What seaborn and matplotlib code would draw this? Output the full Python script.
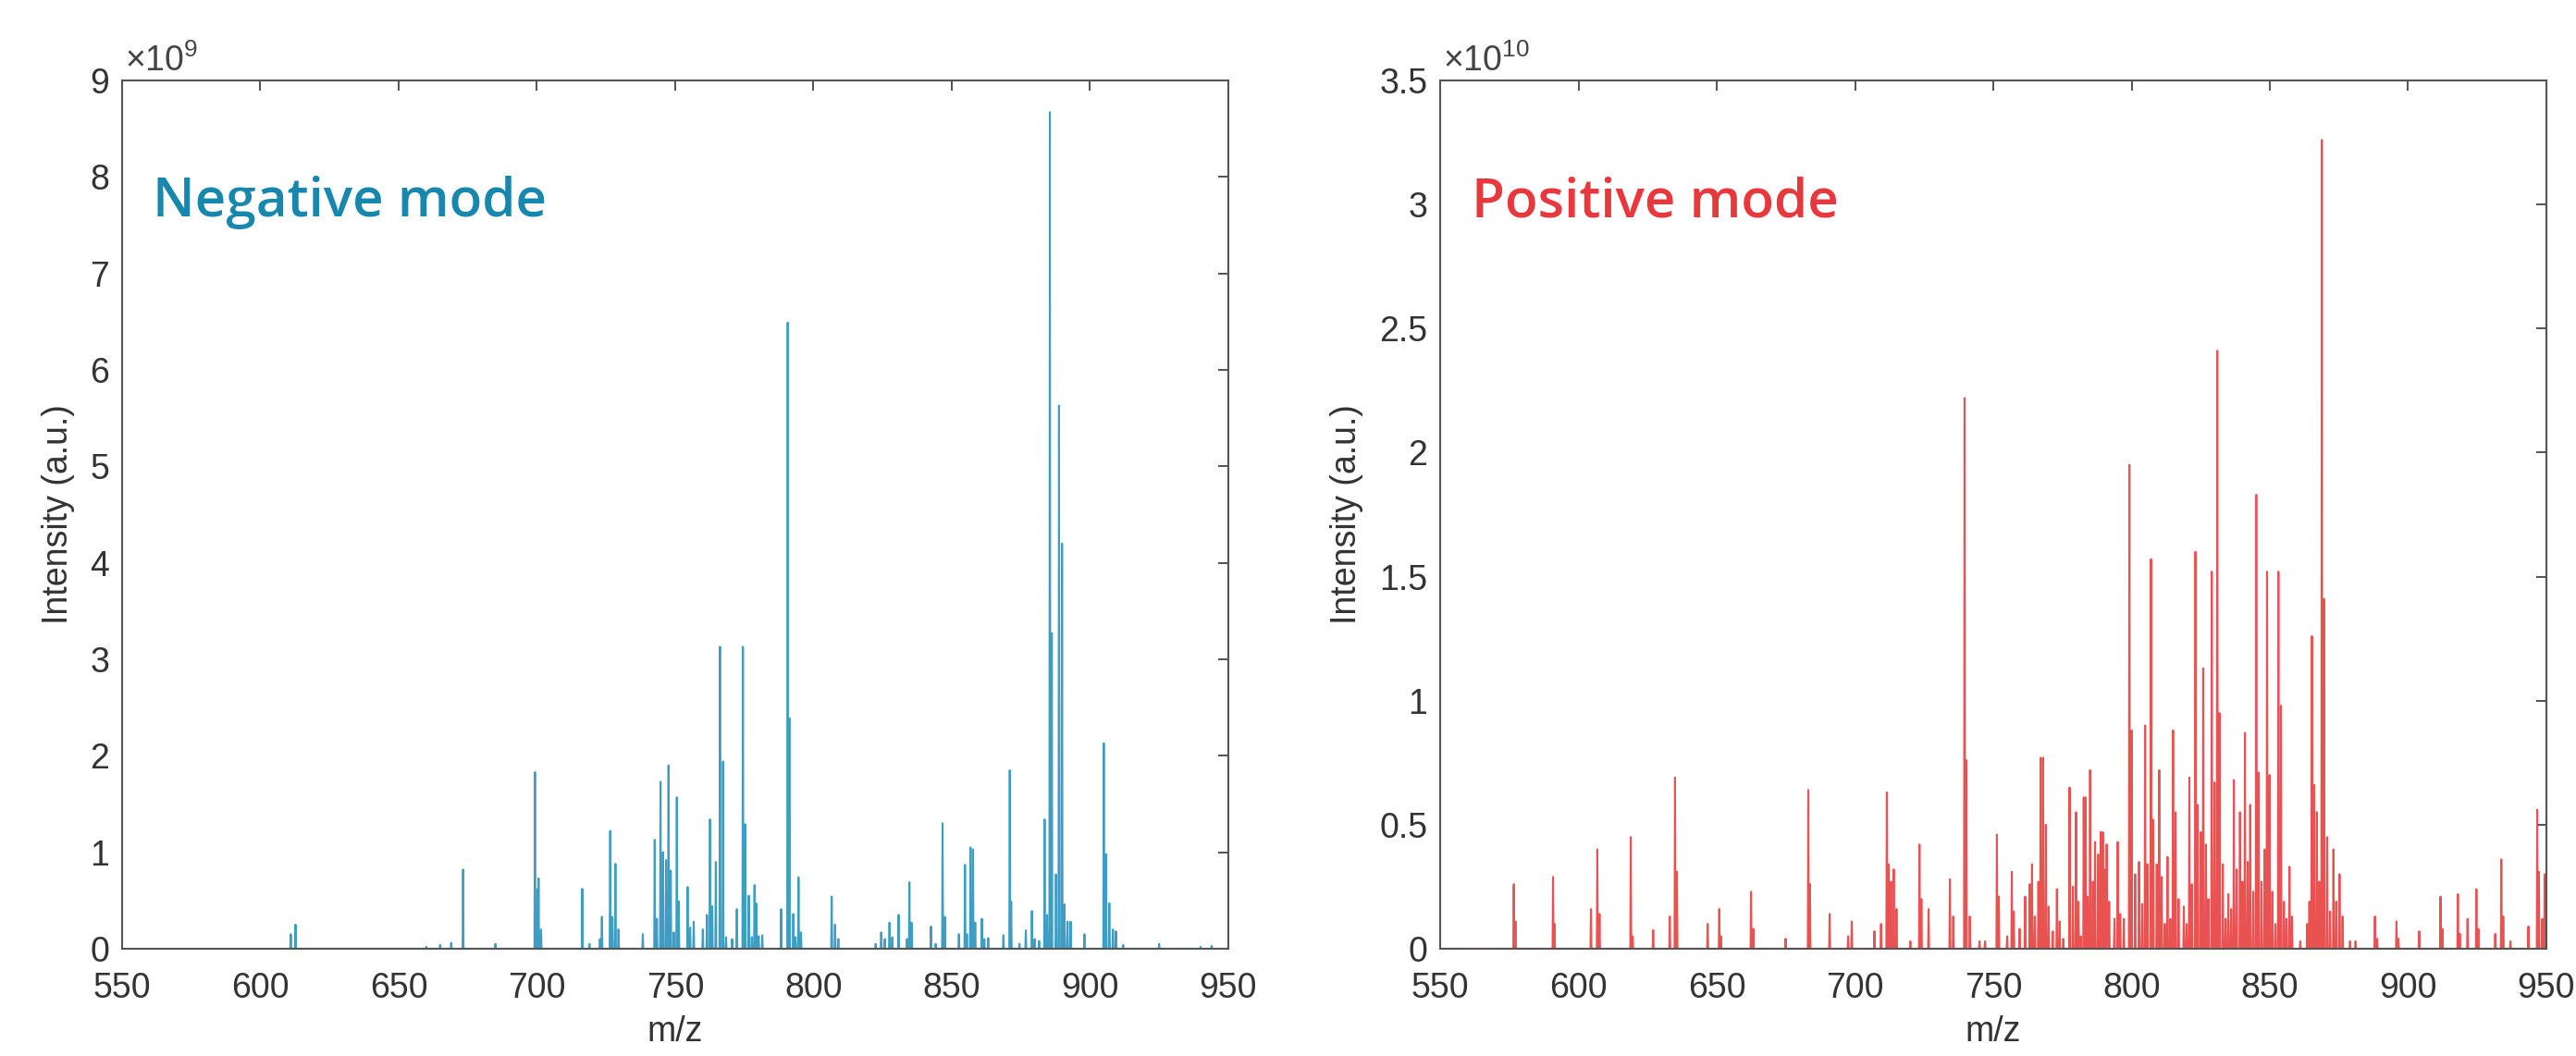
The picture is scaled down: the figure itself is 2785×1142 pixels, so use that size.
import matplotlib
matplotlib.use("Agg")
import matplotlib.pyplot as plt
from matplotlib.ticker import FuncFormatter, MultipleLocator
import numpy as np
import pandas as pd
import seaborn as sns

# Peak lists (m/z, intensity)
NEG_SCALE = 1e9
neg_mz = [
    611.0, 612.7, 660.0, 665.0, 669.0, 673.3, 685.0, 699.3, 700.2, 700.6,
    701.5, 716.4, 719.0, 722.8, 723.5, 726.5, 727.3, 728.4, 729.5, 738.3,
    742.6, 743.4, 744.7, 745.6, 746.7, 747.6, 748.4, 749.5, 750.6, 751.3,
    754.5, 755.4, 756.7, 760.0, 761.5, 762.6, 763.4, 764.7, 766.2, 767.3,
    768.4, 770.6, 772.3, 774.5, 775.3, 776.6, 777.7, 778.7, 779.3, 780.2,
    781.5, 788.3, 790.7, 791.3, 792.7, 793.5, 794.6, 795.5, 806.6, 807.8,
    809.0, 822.5, 824.5, 825.8, 827.5, 828.5, 830.8, 833.8, 834.7, 835.5,
    842.5, 844.2, 846.7, 847.5, 852.6, 854.8, 855.5, 856.8, 857.7, 858.5,
    860.9, 861.8, 863.2, 868.7, 871.0, 871.5, 874.5, 876.8, 879.0, 880.0,
    881.6, 883.6, 884.5, 885.5, 886.2, 887.7, 888.8, 889.9, 890.8, 891.9,
    893.0, 898.0, 905.0, 905.8, 907.0, 908.3, 909.4, 912.0, 925.0, 940.0,
    944.0,
]
neg_int = [
    0.15, 0.25, 0.02, 0.04, 0.06, 0.82, 0.05, 1.83, 0.62, 0.73,
    0.20, 0.62, 0.05, 0.10, 0.33, 1.22, 0.33, 0.88, 0.20, 0.15,
    1.13, 0.31, 1.73, 1.00, 0.92, 1.90, 0.81, 0.17, 1.57, 0.49,
    0.64, 0.22, 0.28, 0.20, 0.35, 1.34, 0.44, 0.90, 3.13, 1.94,
    0.12, 0.10, 0.41, 3.13, 1.29, 0.55, 0.12, 0.66, 0.47, 0.13,
    0.14, 0.41, 6.49, 2.39, 0.36, 0.12, 0.74, 0.17, 0.54, 0.25,
    0.10, 0.05, 0.17, 0.10, 0.27, 0.12, 0.35, 0.10, 0.69, 0.27,
    0.23, 0.05, 1.30, 0.33, 0.15, 0.87, 0.15, 1.05, 1.03, 0.27,
    0.31, 0.10, 0.11, 0.14, 1.85, 0.49, 0.05, 0.19, 0.39, 0.10,
    0.08, 1.34, 0.35, 8.67, 3.27, 0.77, 5.63, 4.20, 0.46, 0.28,
    0.28, 0.15, 2.13, 0.98, 0.47, 0.20, 0.18, 0.04, 0.05, 0.02,
    0.03,
]
neg_scan = [610.0, 950.0]

POS_SCALE = 1e10
pos_mz = [
    576.6, 577.2, 590.8, 591.3, 604.5, 606.8, 607.6, 618.9, 619.6, 627.0,
    633.0, 634.9, 635.6, 646.7, 650.9, 651.5, 662.4, 663.2, 674.9, 683.1,
    683.7, 690.8, 697.5, 698.8, 707.0, 709.4, 711.5, 712.1, 713.0, 714.0,
    715.0, 720.0, 723.3, 724.0, 726.6, 734.3, 735.5, 739.6, 740.2, 741.5,
    745.0, 747.0, 751.3, 752.0, 755.0, 756.7, 757.4, 759.5, 761.5, 763.2,
    764.0, 765.0, 766.3, 767.1, 768.0, 769.0, 770.0, 771.5, 773.0, 774.0,
    775.3, 777.6, 778.8, 779.9, 780.8, 781.6, 782.7, 783.4, 784.1, 785.0,
    786.0, 786.8, 787.9, 788.8, 789.6, 790.3, 791.0, 791.9, 793.8, 795.0,
    795.9, 797.2, 799.2, 800.0, 801.3, 802.7, 803.8, 804.9, 805.7, 807.0,
    807.8, 809.1, 810.0, 810.9, 812.0, 813.0, 814.0, 815.0, 815.9, 817.0,
    818.9, 819.9, 820.9, 821.8, 823.1, 823.9, 825.0, 825.9, 826.9, 827.8,
    829.0, 830.0, 831.0, 831.8, 833.0, 834.0, 835.0, 836.0, 837.0, 838.0,
    839.2, 840.1, 841.0, 842.0, 842.9, 844.0, 845.1, 845.9, 847.0, 848.1,
    849.0, 849.9, 850.9, 852.0, 853.1, 854.0, 855.1, 856.0, 857.1, 858.0,
    861.0, 863.5, 864.3, 865.2, 866.0, 867.0, 867.9, 868.8, 869.6, 870.7,
    871.8, 873.0, 874.0, 875.2, 876.3, 879.0, 881.0, 888.0, 888.8, 895.8,
    896.5, 904.0, 911.7, 912.4, 918.0, 918.7, 921.5, 924.7, 925.4, 931.5,
    933.7, 934.4, 937.0, 943.5, 946.7, 947.3, 948.5, 949.4,
]
pos_int = [
    0.26, 0.11, 0.29, 0.10, 0.16, 0.40, 0.14, 0.45, 0.05, 0.075,
    0.13, 0.69, 0.31, 0.10, 0.16, 0.05, 0.23, 0.08, 0.04, 0.64,
    0.26, 0.14, 0.05, 0.11, 0.07, 0.10, 0.63, 0.34, 0.27, 0.32,
    0.16, 0.03, 0.42, 0.20, 0.16, 0.28, 0.13, 2.22, 0.76, 0.13,
    0.03, 0.03, 0.46, 0.21, 0.05, 0.31, 0.15, 0.08, 0.21, 0.26,
    0.34, 0.13, 0.27, 0.77, 0.77, 0.50, 0.17, 0.07, 0.24, 0.11,
    0.04, 0.65, 0.25, 0.55, 0.19, 0.05, 0.61, 0.61, 0.21, 0.72,
    0.27, 0.43, 0.38, 0.47, 0.47, 0.32, 0.42, 0.19, 0.12, 0.43,
    0.14, 0.12, 1.95, 0.88, 0.30, 0.35, 0.18, 0.90, 0.34, 1.57,
    0.52, 0.34, 0.72, 0.29, 0.10, 0.37, 0.12, 0.88, 0.55, 0.20,
    0.17, 0.10, 0.69, 0.26, 1.60, 0.58, 0.47, 1.13, 0.42, 0.20,
    1.52, 0.67, 2.41, 0.95, 0.34, 0.12, 0.22, 0.16, 0.68, 0.32,
    0.55, 0.27, 0.87, 0.35, 0.58, 0.23, 1.83, 0.71, 0.27, 0.40,
    1.52, 0.70, 0.23, 0.10, 1.52, 0.98, 0.19, 0.12, 0.33, 0.13,
    0.03, 0.10, 0.19, 1.26, 0.66, 0.55, 0.27, 3.26, 1.41, 0.45,
    0.15, 0.40, 0.19, 0.30, 0.13, 0.03, 0.03, 0.13, 0.04, 0.11,
    0.04, 0.07, 0.21, 0.08, 0.22, 0.06, 0.12, 0.24, 0.08, 0.06,
    0.36, 0.13, 0.03, 0.09, 0.56, 0.31, 0.12, 0.30,
]
pos_scan = [550.0, 950.0]

mz_ticks = [550, 600, 650, 700, 750, 800, 850, 900, 950]

NEG_LINE = "#3f9cc2"
POS_LINE = "#ea5151"
NEG_TEXT = "#1787ae"
POS_TEXT = "#e8383d"
AX_COLOR = "#333333"

sns.set_theme(style="white")
plt.rcParams.update({
    "font.family": ["Liberation Sans", "DejaVu Sans"],
    "mathtext.fontset": "custom",
    "mathtext.rm": "Liberation Sans",
    "mathtext.it": "Liberation Sans",
    "text.color": AX_COLOR,
    "axes.labelcolor": AX_COLOR,
    "xtick.color": AX_COLOR,
    "ytick.color": AX_COLOR,
})


def stick_profile(mz, intensity, scan, scale, w=0.18):
    """Turn a peak list into a centroid-like profile trace."""
    order = np.argsort(mz)
    mz = np.asarray(mz)[order]
    h = np.asarray(intensity)[order] * scale
    zeros = np.zeros_like(h)
    x = np.concatenate([[scan[0]], np.column_stack([mz - w, mz, mz + w]).ravel(), [scan[1]]])
    y = np.concatenate([[0.0], np.column_stack([zeros, h, zeros]).ravel(), [0.0]])
    return pd.DataFrame({"mz": x, "intensity": y})


def draw_panel(ax, df, color, scale, exp, ymax, ystep, label, label_color):
    sns.lineplot(data=df, x="mz", y="intensity", sort=False, estimator=None,
                 color=color, linewidth=1.5, ax=ax)
    ax.set_xlim(550, 950)
    ax.set_ylim(0, ymax * scale)
    ax.set_xticks(mz_ticks)
    ax.yaxis.set_major_locator(MultipleLocator(ystep * scale))
    ax.yaxis.set_major_formatter(FuncFormatter(lambda v, p: f"{v / scale:g}"))
    ax.tick_params(direction="in", length=8, width=1.2, top=True, right=True,
                   labelsize=27, colors=AX_COLOR)
    ax.tick_params(axis="x", pad=18)
    ax.tick_params(axis="y", pad=10)
    for s in ax.spines.values():
        s.set_visible(True)
        s.set_color("#555555")
        s.set_linewidth(1.5)
    ax.set_xlabel("m/z", fontsize=27, labelpad=8)
    ax.set_ylabel("Intensity (a.u.)", fontsize=27, labelpad=12)
    ax.annotate(rf"$\times$10$^{{{exp}}}$", xy=(0, 1), xycoords="axes fraction",
                xytext=(2, 7), textcoords="offset points", fontsize=27,
                color="#444444", ha="left", va="baseline")
    ax.text(0.028, 0.843, label, transform=ax.transAxes, fontsize=42,
            family=["Open Sans", "DejaVu Sans"], fontweight="semibold",
            color=label_color, ha="left", va="baseline")


fig = plt.figure(figsize=(27.85, 11.42), dpi=100)
ax_neg = fig.add_axes([0.0474, 0.1016, 0.4294, 0.8222])
ax_pos = fig.add_axes([0.5591, 0.1016, 0.4294, 0.8222])

neg_df = stick_profile(neg_mz, neg_int, neg_scan, NEG_SCALE)
pos_df = stick_profile(pos_mz, pos_int, pos_scan, POS_SCALE)

draw_panel(ax_neg, neg_df, NEG_LINE, NEG_SCALE, 9, 9, 1, "Negative mode", NEG_TEXT)
draw_panel(ax_pos, pos_df, POS_LINE, POS_SCALE, 10, 3.5, 0.5, "Positive mode", POS_TEXT)

fig.savefig("out.png", dpi=100, facecolor="white")
